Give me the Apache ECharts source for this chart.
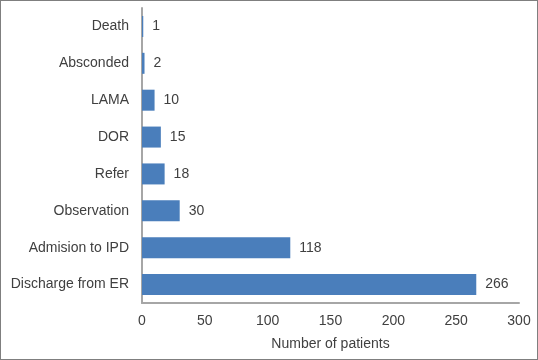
<!DOCTYPE html>
<html lang="en">
<head>
    <meta charset="UTF-8">
    <title>Patient outcomes</title>
    <script src="https://cdn.jsdelivr.net/npm/echarts@6/dist/echarts.min.js"></script>
    <style>
        html, body { margin: 0; padding: 0; background: #fff; }
        #chart { width: 536px; height: 358px; border: 1px solid #7f7f7f; }
    </style>
</head>
<body>
    <div id="chart"></div>
<script>
    // categories listed bottom to top (ECharts category y axis starts at the bottom)
    let categories = ['Discharge from ER', 'Admision to IPD', 'Observation', 'Refer', 'DOR', 'LAMA', 'Absconded', 'Death'];
    let patients = [266, 118, 30, 18, 15, 10, 2, 1];
    let xTicks = [0, 300, 50];

    let myChart = echarts.init(document.getElementById('chart'));
    let font = 'Liberation Sans, Arial, sans-serif';
    let option = {
      animation: false,
      grid: { left: 141, right: 18, top: 7, bottom: 56, containLabel: false },
      xAxis: {
        type: 'value',
        min: xTicks[0],
        max: xTicks[1],
        interval: xTicks[2],
        name: 'Number of patients',
        nameLocation: 'middle',
        nameGap: 34,
        nameTextStyle: { color: '#404040', fontSize: 14, fontFamily: font },
        axisLine: { show: true, lineStyle: { color: '#a6a6a6', width: 2 } },
        axisTick: { show: false },
        splitLine: { show: false },
        axisLabel: { color: '#404040', fontSize: 14, fontFamily: font, margin: 11 },
      },
      yAxis: {
        type: 'category',
        data: categories,
        axisLine: { show: true, lineStyle: { color: '#a6a6a6', width: 2 } },
        axisTick: { show: false },
        axisLabel: { color: '#404040', fontSize: 14, fontFamily: font, margin: 13 },
      },
      series: [
        {
          type: 'bar',
          data: patients,
          barWidth: 21,
          itemStyle: { color: '#4a7ebb' },
          label: {
            show: true,
            position: 'right',
            distance: 9,
            color: '#404040',
            fontSize: 14,
            fontFamily: font,
          },
        },
      ],
    };
    myChart.setOption(option);
</script>
</body>
</html>
